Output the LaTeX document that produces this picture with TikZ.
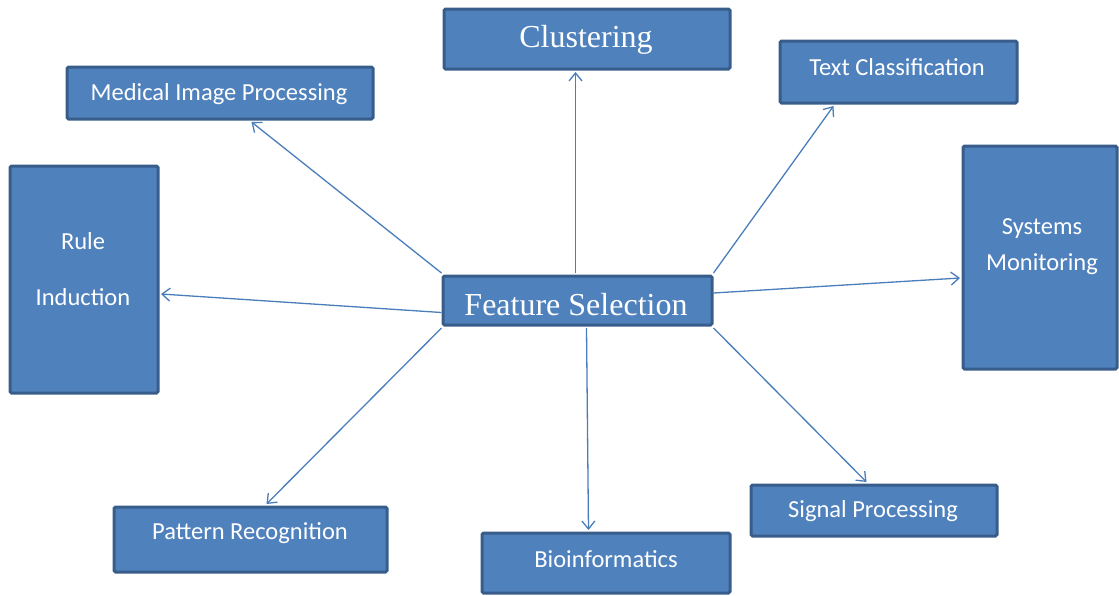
\documentclass[tikz,border=0pt]{standalone}
\usepackage{fontspec}
\setmainfont{Carlito}
\newfontfamily\serifx{Liberation Serif}
\usetikzlibrary{arrows.meta}
\definecolor{boxfill}{HTML}{4F81BD}
\definecolor{boxline}{HTML}{385D8A}
\definecolor{arrowc}{HTML}{4A7EBB}
\tikzset{
  box/.style={draw=boxline, fill=boxfill, line width=3pt, rounded corners=1.5pt, inner sep=0pt},
  lbl/.style={text=white, font=\fontsize{24.5}{28}\selectfont, align=center, inner sep=0pt, yshift=-2pt},
  slbl/.style={text=white, font=\serifx\fontsize{32}{36}\selectfont, inner sep=0pt, yshift=-2pt},
  arr/.style={draw=arrowc, line width=1.3pt, -{Straight Barb[length=8pt,width=13pt]}}
}
\begin{document}
\begin{tikzpicture}[x=1pt,y=-1pt]
\useasboundingbox (0,0) rectangle (1119,595);
% boxes
\node[box, minimum width=269pt, minimum height=49pt] (fs) at (577.5,300.5) {};
\node[box, minimum width=286pt, minimum height=60pt] (clu) at (587,39) {};
\node[box, minimum width=306pt, minimum height=52pt] (med) at (220,93) {};
\node[box, minimum width=237pt, minimum height=62pt] (txt) at (898.5,72) {};
\node[box, minimum width=148pt, minimum height=227pt] (rule) at (84,279.5) {};
\node[box, minimum width=154pt, minimum height=223pt] (sys) at (1040,257.5) {};
\node[box, minimum width=273pt, minimum height=65pt] (pat) at (250.5,539.5) {};
\node[box, minimum width=248pt, minimum height=60pt] (bio) at (606,563) {};
\node[box, minimum width=246pt, minimum height=51pt] (sig) at (874,510.5) {};
% labels
\node[slbl] (fsl) at (576,303) {Feature Selection};
\node[slbl] (clul) at (586,38) {Clustering};
\node[lbl] (medl) at (219,92) {Medical Image Processing};
\node[lbl] (txtl) at (897,65) {Text Classification};
\node[lbl] (rulel1) at (83,239) {Rule};
\node[lbl] (rulel2) at (83,295) {Induction};
\node[lbl] (sysl1) at (1042,227) {Systems};
\node[lbl] (sysl2) at (1042,262) {Monitoring};
\node[lbl] (patl) at (250,531) {Pattern Recognition};
\node[lbl] (biol) at (606,557) {Bioinformatics};
\node[lbl] (sigl) at (873,509) {Signal Processing};
% connectors
\draw[arr] ([xshift=134pt,yshift=1.5pt]fs.north west) -- ([xshift=133pt,yshift=-1.5pt]clu.south west);
\draw[arr] ([yshift=1.5pt]fs.north west) -- ([xshift=186pt,yshift=-1.5pt]med.south west);
\draw[arr] ([yshift=1.5pt]fs.north east) -- ([xshift=55pt,yshift=-1.5pt]txt.south west);
\draw[arr] ([yshift=-12pt]fs.west) -- ([yshift=-14.5pt,xshift=1.5pt]rule.east);
\draw[arr] ([yshift=7.5pt]fs.east) -- ([yshift=-20.5pt,xshift=-1.5pt]sys.west);
\draw[arr] ([yshift=-1.5pt]fs.south west) -- ([xshift=154pt,yshift=1.5pt]pat.north west);
\draw[arr] ([xshift=145pt,yshift=-1.5pt]fs.south west) -- ([xshift=108pt,yshift=1.5pt]bio.north west);
\draw[arr] ([yshift=-1.5pt]fs.south east) -- ([xshift=117pt,yshift=1.5pt]sig.north west);
\end{tikzpicture}
\end{document}
